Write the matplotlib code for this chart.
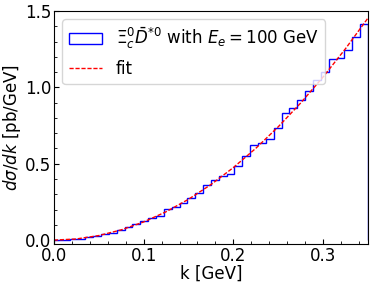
import matplotlib
matplotlib.use('Agg')
import matplotlib.pyplot as plt
from matplotlib.ticker import AutoMinorLocator
import numpy as np

# histogram: 40 bins from 0 to 0.35 GeV
bin_edges = np.linspace(0.0, 0.35, 41)
hist_values = [0.001, 0.003, 0.006, 0.010, 0.019, 0.026, 0.039, 0.049, 0.064, 0.083,
               0.108, 0.126, 0.146, 0.160, 0.204, 0.214, 0.241, 0.278, 0.309, 0.360,
               0.393, 0.421, 0.430, 0.486, 0.548, 0.622, 0.638, 0.660, 0.732, 0.830,
               0.862, 0.918, 0.975, 1.046, 1.100, 1.185, 1.190, 1.245, 1.332, 1.413]

# fit curve
fit_k = [0.0, 0.025, 0.05, 0.075, 0.1, 0.125, 0.15, 0.175, 0.2, 0.225, 0.25, 0.275, 0.3, 0.325, 0.35]
fit_y = [0.0, 0.0074, 0.0297, 0.0668, 0.1187, 0.1855, 0.2671, 0.3635, 0.4748, 0.6009,
         0.7419, 0.8977, 1.0683, 1.2538, 1.4541]

fs = 12
plt.rcParams['font.size'] = fs
plt.rcParams['mathtext.fontset'] = 'dejavusans'

fig, ax = plt.subplots(figsize=(3.74, 2.89), dpi=100)
fig.subplots_adjust(left=0.144, right=0.984, top=0.962, bottom=0.156)

centers = 0.5 * (bin_edges[:-1] + bin_edges[1:])
ax.hist(centers, bins=bin_edges, weights=hist_values, histtype='step', color='blue',
        linewidth=1.0, label=r'$\Xi_c^0\bar{D}^{*0}$ with $E_e=100$ GeV')
ax.plot(fit_k, fit_y, color='red', linestyle='--', dashes=(3, 1.3), linewidth=1.0, label='fit')

ax.set_xlim(0, 0.35)
ax.set_ylim(-0.025, 1.5)
ax.set_xticks([0.0, 0.1, 0.2, 0.3])
ax.set_yticks([0.0, 0.5, 1.0, 1.5])
ax.xaxis.set_minor_locator(AutoMinorLocator(5))
ax.yaxis.set_minor_locator(AutoMinorLocator(5))
ax.tick_params(which='both', direction='in', labelsize=fs, pad=2)
ax.tick_params(which='major', length=3.5)
ax.tick_params(which='minor', length=2)

ax.set_xlabel('k [GeV]', fontsize=fs, labelpad=0)
ax.set_ylabel(r'$d\sigma/dk$ [pb/GeV]', fontsize=fs, labelpad=1)
ax.legend(loc='upper left', fontsize=fs)

fig.savefig('out.png', dpi=100)
